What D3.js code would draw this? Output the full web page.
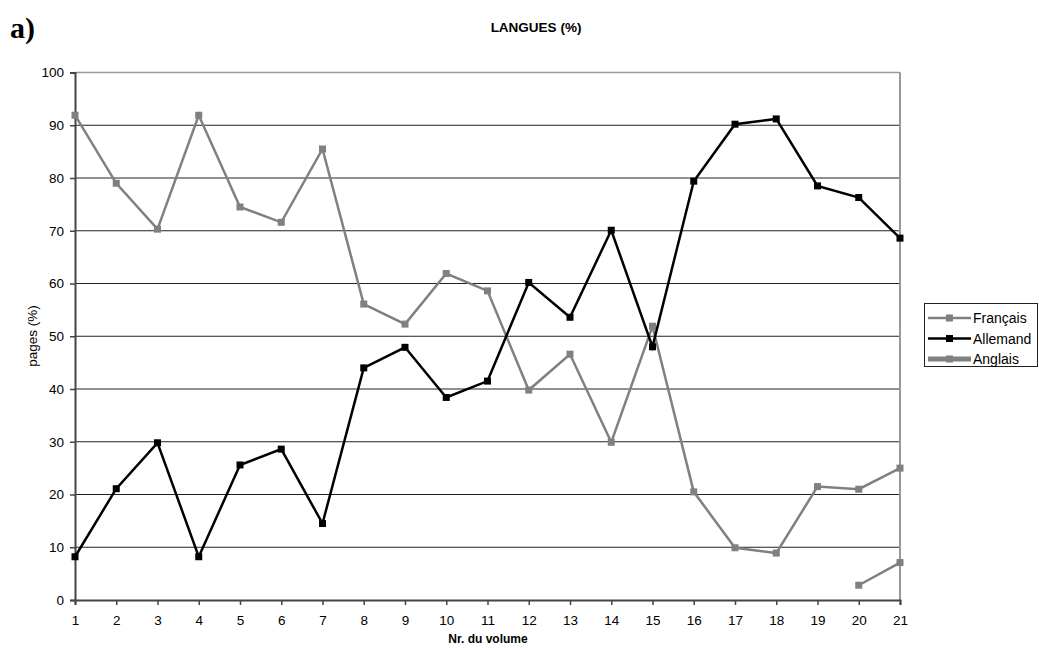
<!DOCTYPE html>
<html><head><meta charset="utf-8">
<script src="https://cdn.jsdelivr.net/npm/d3@7"></script>
<style>body{margin:0;background:#fff}svg{display:block;font-family:"Liberation Sans",Arial,sans-serif}</style>
</head><body>
<script>
const volumes = d3.range(1, 22);
const francais = [91.9,79.0,70.3,91.9,74.5,71.6,85.5,56.1,52.3,61.9,58.6,39.8,46.6,29.9,51.9,20.5,9.9,8.9,21.5,21.0,25.0];
const allemand = [8.2,21.1,29.8,8.2,25.6,28.6,14.5,44.0,47.9,38.4,41.5,60.2,53.6,70.1,48.0,79.4,90.2,91.2,78.5,76.3,68.6];
const anglais = [null,null,null,null,null,null,null,null,null,null,null,null,null,null,null,null,null,null,null,2.8,7.1];
const yTicks = [0,10,20,30,40,50,60,70,80,90,100];
const seriesNames = ["Français","Allemand","Anglais"];

const W=1039,H=650;
const svg=d3.select("body").append("svg").attr("width",W).attr("height",H);
const x=d3.scaleLinear().domain([1,21]).range([75,900]);
const y=d3.scaleLinear().domain([0,100]).range([600,72.5]);

svg.append("g").selectAll("line").data(yTicks.filter(t=>t>0&&t<100)).join("line")
  .attr("x1",x(1)).attr("x2",x(21)).attr("y1",d=>y(d)).attr("y2",d=>y(d))
  .attr("stroke","#222").attr("stroke-width",1);
svg.append("line").attr("x1",x(1)).attr("x2",x(21)).attr("y1",y(100)).attr("y2",y(100)).attr("stroke","#999").attr("stroke-width",1.5);
svg.append("line").attr("x1",x(21)).attr("x2",x(21)).attr("y1",y(100)).attr("y2",y(0)).attr("stroke","#999").attr("stroke-width",2);

const yAxis=svg.append("g").attr("transform",`translate(${x(1)},0)`)
  .call(d3.axisLeft(y).tickValues(yTicks).tickSize(5).tickPadding(6).tickFormat(d3.format("d")));
const xAxis=svg.append("g").attr("transform",`translate(0,${y(0)})`)
  .call(d3.axisBottom(x).tickValues(volumes).tickSize(5).tickPadding(10).tickFormat(d3.format("d")));
[yAxis,xAxis].forEach(a=>{
  a.attr("font-size",13.5).attr("font-family","Liberation Sans, Arial, sans-serif");
  a.select(".domain").attr("stroke","#444").attr("stroke-width",2);
  a.selectAll(".tick line").attr("stroke","#444").attr("stroke-width",1.5);
  a.selectAll("text").attr("fill","#000");
});

const series=[
  {name:seriesNames[0],vals:francais,color:"#808080",w:2.5},
  {name:seriesNames[1],vals:allemand,color:"#000",w:2.5},
  {name:seriesNames[2],vals:anglais,color:"#808080",w:2.5}
];
const line=d3.line().defined(d=>d.v!=null).x(d=>x(d.x)).y(d=>y(d.v));
series.forEach(s=>{
  const pts=volumes.map((v,i)=>({x:v,v:s.vals[i]}));
  svg.append("path").datum(pts).attr("d",line).attr("fill","none")
    .attr("stroke",s.color).attr("stroke-width",s.w).attr("stroke-linejoin","miter");
  svg.append("g").selectAll("rect").data(pts.filter(p=>p.v!=null)).join("rect")
    .attr("x",d=>x(d.x)-3.5).attr("y",d=>y(d.v)-3.5).attr("width",7).attr("height",7)
    .attr("fill",s.color);
});

const lg=svg.append("g");
lg.append("rect").attr("x",924.5).attr("y",303.5).attr("width",113).attr("height",63)
  .attr("fill","#fff").attr("stroke","#222").attr("stroke-width",1);
const lw=[2.5,2.5,5];
series.forEach((s,i)=>{
  const yy=318+i*20.5;
  lg.append("line").attr("x1",928).attr("x2",971).attr("y1",yy).attr("y2",yy).attr("stroke",s.color).attr("stroke-width",lw[i]);
  lg.append("rect").attr("x",949.5-3.5).attr("y",yy-3.5).attr("width",7).attr("height",7).attr("fill",s.color);
  lg.append("text").attr("x",973).attr("y",yy+5).attr("font-size",14).text(s.name);
});

svg.append("text").attr("x",10).attr("y",38).style("font-family","'Liberation Serif','DejaVu Serif',serif")
  .attr("font-weight","bold").attr("font-size",30).text("a)");
svg.append("text").attr("x",536).attr("y",32).attr("text-anchor","middle").attr("font-weight","bold").attr("font-size",13.5).text("LANGUES (%)");
svg.append("text").attr("transform","translate(37,336) rotate(-90)").attr("text-anchor","middle").attr("font-size",13.5).text("pages (%)");
svg.append("text").attr("x",488).attr("y",643).attr("text-anchor","middle").attr("font-weight","bold").attr("font-size",12).text("Nr. du volume");
</script>
</body></html>
